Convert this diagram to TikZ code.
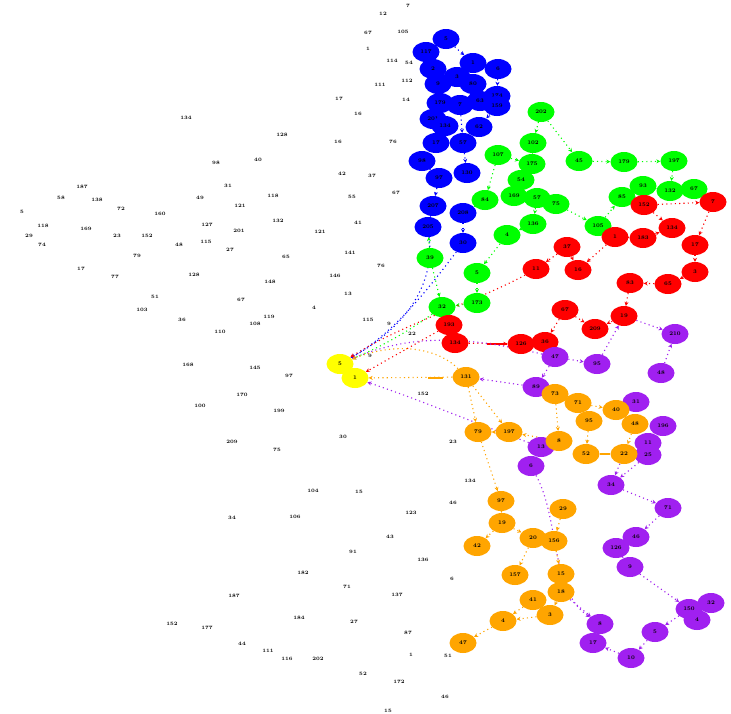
\documentclass[tikz,border=0pt]{standalone}
\usetikzlibrary{shapes.geometric,arrows.meta}
\pgfdeclarelayer{back}
\pgfdeclarelayer{bg}
\pgfsetlayers{back,bg,main}
\definecolor{cb}{RGB}{0,0,255}
\definecolor{cg}{RGB}{0,255,0}
\definecolor{cr}{RGB}{255,0,0}
\definecolor{cp}{RGB}{160,32,240}
\definecolor{co}{RGB}{255,165,0}
\definecolor{cy}{RGB}{255,255,0}
\begin{document}
\begin{tikzpicture}[x=1pt,y=-1pt,
 nd/.style={ellipse,minimum width=27pt,minimum height=20pt,inner sep=0pt,font=\fontsize{5.5}{6}\selectfont\bfseries},
 nb/.style={nd,fill=cb}, ngr/.style={nd,fill=cg}, nr/.style={nd,fill=cr},
 np/.style={nd,fill=cp}, no/.style={nd,fill=co}, ny/.style={nd,fill=cy},
 lb/.style={inner sep=0pt,font=\fontsize{5}{5.5}\selectfont\bfseries},
 ed/.style={dash pattern=on 1.1pt off 3.2pt,line width=1.1pt,-{Stealth[length=4pt,width=4pt]}},
 eb/.style={ed,cb}, eg/.style={ed,cg}, er/.style={ed,cr}, ep/.style={ed,cp}, eo/.style={ed,co}]
\useasboundingbox (0,0) rectangle (731,713);
\begin{pgfonlayer}{back}
\fill[white] (0,0) rectangle (731,713);
\end{pgfonlayer}
% blue
\foreach \n/\x/\y/\t in {b1/446/39/5,b2/426/52/117,b3/473/63/1,b4/498/69/6,b5/433/69/2,b6/457/77/3,b7/438/84/9,b8/473/84/80,
 b9/440/103/179,b10/460/105/7,b11/480/101/63,b12/497/96/174,b13/497/106/159,b14/433/119/201,b15/445/126/134,b16/479/127/62,
 b17/436/143/17,b18/463/143/57,b19/422/161/98,b20/467/173/130,b21/439/178/97,b22/433/206/207,b23/463/213/208,b24/428/227/205,b25/463/243/30}
 \node[nb] (\n) at (\x,\y) {\t};
% green
\foreach \n/\x/\y/\t in {g1/541/112/202,g2/533/143/102,g3/498/155/107,g4/532/164/175,g5/579/161/45,g6/624/162/179,g7/674/161/197,
 g8/521/180/54,g9/643/186/93,g10/670/191/132,g11/694/189/67,g12/485/200/84,g13/514/196/169,g14/537/198/57,g15/556/204/75,
 g16/622/197/85,g17/598/226/105,g18/533/224/136,g19/507/235/4,g20/430/258/39,g21/477/273/5,g22/442/307/32,g23/477/303/173}
 \node[ngr] (\n) at (\x,\y) {\t};
% red
\foreach \n/\x/\y/\t in {r1/644/205/152,r2/713/202/7,r3/672/228/134,r4/615/237/1,r5/643/238/183,r6/695/245/17,r7/567/247/37,
 r8/536/269/11,r9/578/270/16,r10/695/272/3,r11/630/283/83,r12/668/284/65,r13/565/310/67,r14/624/316/19,r15/595/329/209,
 r16/521/344/126,r17/545/342/36,r18/449/325/193,r19/455/343/134}
 \node[nr] (\n) at (\x,\y) {\t};
% purple
\foreach \n/\x/\y/\t in {p1/555/357/47,p2/597/364/95,p3/675/334/210,p4/661/373/48,p5/536/387/89,p6/636/402/31,p7/663/426/196,
 p8/541/447/13,p9/648/443/11,p10/648/455/25,p11/531/466/6,p12/611/485/34,p13/668/508/71,p14/636/537/46,p15/616/548/126,
 p16/630/567/9,p17/689/609/150,p18/711/603/32,p19/697/620/4,p20/600/624/8,p21/655/632/5,p22/593/643/17,p23/631/658/10}
 \node[np] (\n) at (\x,\y) {\t};
% orange
\foreach \n/\x/\y/\t in {o1/466/377/131,o2/555/394/73,o3/578/403/71,o4/616/410/40,o5/589/421/95,o6/635/424/48,o7/478/432/79,
 o8/509/432/197,o9/559/441/8,o10/586/454/52,o11/624/454/22,o12/501/501/97,o13/563/509/29,o14/502/523/19,o15/533/538/20,
 o16/554/541/156,o17/477/546/42,o18/515/575/157,o19/561/574/15,o20/561/592/18,o21/533/600/41,o22/503/621/4,o23/550/615/3,o24/463/643/47}
 \node[no] (\n) at (\x,\y) {\t};
% yellow
\node[ny] (y1) at (340,364) {5};
\node[ny] (y2) at (355,378) {1};
% free labels
\foreach \n/\x/\y/\t in {1/408/6/7,2/383/14/12,3/403/32/105,4/368/33/67,5/368/49/1,6/392/61/114,7/409/63/54,8/380/85/111,9/407/81/112,
 10/406/100/14,11/339/99/17,12/358/114/16,13/282/135/128,14/338/142/16,15/393/142/76,16/258/160/40,17/342/174/42,18/372/176/37,
 19/396/193/67,20/273/196/118,21/352/197/55,22/240/206/121,23/278/221/132,24/358/223/41,25/320/232/121,26/239/231/201,
 27/186/118/134,28/216/163/98,29/228/186/31,30/82/187/187,31/61/198/58,32/97/200/138,33/200/198/49,34/121/209/72,
 35/22/212/5,36/160/214/160,37/43/226/118,38/86/229/169,39/207/225/127,40/29/236/29,41/117/236/23,42/147/236/152,
 43/42/245/74,44/179/245/48,45/206/242/115,46/230/250/27,47/137/256/79,48/81/269/17,49/115/277/77,50/194/275/128,
 51/241/300/67,52/155/297/51,53/142/310/103,54/182/320/36,55/220/332/110,56/188/365/168,57/242/395/170,58/200/406/100,
 59/232/442/209,60/350/253/141,61/286/257/65,62/381/266/76,63/335/276/146,64/270/282/148,65/348/294/13,66/314/308/4,
 67/269/317/119,68/255/324/108,69/368/320/115,70/389/324/9,71/412/334/22,72/370/356/9,73/255/368/145,74/289/376/97,
 75/423/394/152,76/279/411/199,77/343/437/30,78/453/442/23,79/277/450/75,80/313/491/104,81/359/492/15,82/470/481/134,
 83/453/503/46,84/295/517/106,85/411/513/123,86/390/537/43,87/353/552/91,88/423/560/136,89/303/573/182,90/452/579/6,
 91/347/587/71,92/397/595/137,93/299/618/184,94/354/622/27,95/408/633/87,96/242/644/44,97/268/651/111,98/287/659/116,
 99/318/659/202,100/411/655/1,101/448/656/51,102/363/674/52,103/399/682/172,104/445/697/46,105/388/711/15,
 106/232/518/34,107/234/596/187,108/172/624/152,109/207/628/177}
 \node[lb] (t\n) at (\x,\y) {\t};
\begin{pgfonlayer}{bg}
\foreach \a/\b in {b2/b5,b1/b3,b4/b12,b13/b16,b19/b21,b18/b20,b21/b22,b22/b24,b23/b25,b17/b19,b10/b18}
 \draw[eb] (\a) -- (\b);
\draw[eb] (b25) .. controls (420,300) and (390,335) .. (y1);
\draw[eb] (b24) .. controls (435,290) and (400,330) .. (y1);
\foreach \a/\b in {g1/g5,g1/g2,g2/g4,g3/g4,g5/g6,g6/g7,g7/g10,g10/g9,g3/g12,g12/b23,g15/g17,g17/g16,g14/g18,g18/g19,
 g8/g13,g20/b24,g21/g23,g20/g22,g23/g22,g19/g21}
 \draw[eg] (\a) -- (\b);
\draw[eg] (g22) .. controls (410,330) and (385,345) .. (y1);
\foreach \a/\b in {r1/r2,r2/r6,r1/r3,r6/r10,r10/r12,r12/r11,r11/r14,r14/r15,r13/r15,r13/r17,r7/r9,r7/r8,r4/r9,r4/r5,r5/r3,r18/r19}
 \draw[er] (\a) -- (\b);
\draw[er] (r19) -- (r16);
\draw[cr,line width=1.1pt] (487,344) -- (r16);
\draw[er] (r8) .. controls (480,300) and (400,325) .. (y1);
\draw[er] (r18) -- (y2);
\foreach \a/\b in {p1/p5,p1/p2,p2/r14,r14/p3,p4/p3,p10/p12,o11/p12,p12/p13,p13/p14,p15/p16,p16/p17,p17/p21,p21/p23,p23/p22,p20/p22,o20/p20,p5/o1}
 \draw[ep] (\a) -- (\b);
\draw[ep] (p11) .. controls (560,520) and (550,590) .. (p20);
\draw[ep] (p8) .. controls (480,425) and (420,400) .. (y2);
\draw[ep] (p1) .. controls (480,340) and (420,330) .. (y1);
\foreach \a/\b in {o1/o7,o1/o8,o2/o9,o2/o3,o3/o4,o4/o6,o5/o10,o6/o11,o9/o8,o8/o7,o7/o12,o12/o14,o14/o15,o14/o17,o13/o16,
 o15/o16,o15/o18,o16/o19,o19/o20,o20/o23,o23/o21,o21/o22,o23/o22,o22/o24}
 \draw[eo] (\a) -- (\b);
\draw[co,line width=1.1pt] (o10) -- (o11);
\draw[eo] (o1) -- (y2);
\draw[co,line width=1.1pt] (428,378) -- (443,378);
\draw[eo] (o1) .. controls (440,350) and (400,340) .. (y1);
\end{pgfonlayer}
\end{tikzpicture}
\end{document}
